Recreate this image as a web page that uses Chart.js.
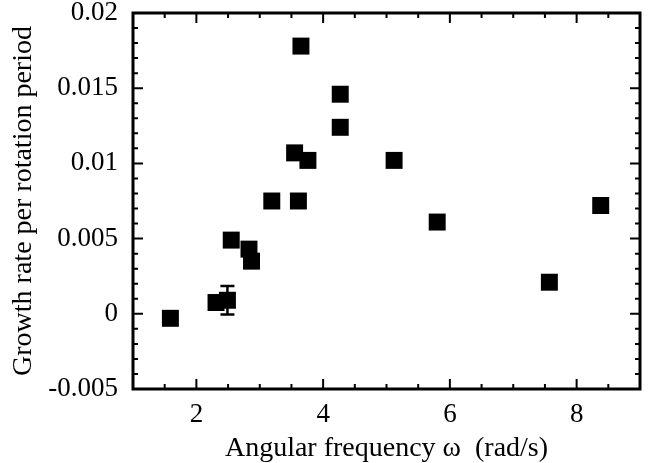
<!DOCTYPE html>
<html><head><meta charset="utf-8">
<script src="https://cdn.jsdelivr.net/npm/chart.js@4/dist/chart.umd.min.js"></script>
<style>html,body{margin:0;padding:0;background:#fff}#wrap{width:665px;height:463px}</style>
</head><body><div id="wrap"><canvas id="c" width="665" height="463"></canvas></div>
<script>
const omega = [1.59, 2.31, 2.49, 2.55, 2.83, 2.87, 3.19, 3.55, 3.61, 3.65, 3.76, 4.27, 4.27, 5.12, 5.80, 7.57, 8.38];
const growth = [-0.0003, 0.00075, 0.0009, 0.0049, 0.0043, 0.0035, 0.0075, 0.0107, 0.0075, 0.0178, 0.0102, 0.0146, 0.0124, 0.0102, 0.0061, 0.0021, 0.0072];
const growthErr = [0, 0, 0.00095, 0, 0, 0, 0, 0, 0, 0, 0, 0, 0, 0, 0, 0, 0];
const xTickValues = [2, 4, 6, 8];
const yTickValues = [-0.005, 0, 0.005, 0.01, 0.015, 0.02];
const yTickLabels = ['-0.005', '0', '0.005', '0.01', '0.015', '0.02'];
const xTitle = 'Angular frequency ω  (rad/s)';
const yTitle = 'Growth rate per rotation period';

const FAMILY = '"Liberation Serif", "Times New Roman", serif';

const errorBars = {
  id: 'errorBars',
  afterDatasetsDraw(chart) {
    const {ctx, scales: {x, y}} = chart;
    ctx.save();
    ctx.strokeStyle = '#000';
    ctx.lineWidth = 2.5;
    growthErr.forEach((e, i) => {
      if (!e) return;
      const px = x.getPixelForValue(omega[i]);
      const y1 = y.getPixelForValue(growth[i] + e);
      const y2 = y.getPixelForValue(growth[i] - e);
      ctx.beginPath();
      ctx.moveTo(px, y1); ctx.lineTo(px, y2);
      ctx.moveTo(px - 7, y1); ctx.lineTo(px + 7, y1);
      ctx.moveTo(px - 7, y2); ctx.lineTo(px + 7, y2);
      ctx.stroke();
    });
    ctx.restore();
  }
};

const frameTicks = {
  id: 'frameTicks',
  afterDraw(chart) {
    const {ctx, chartArea: a, scales: {x, y}} = chart;
    ctx.save();
    ctx.strokeStyle = '#000';
    ctx.lineWidth = 2;
    ctx.beginPath();
    for (let i = Math.ceil(x.min * 2); i <= Math.floor(x.max * 2); i++) {
      const v = i / 2;
      const px = x.getPixelForValue(v);
      const len = (v % 2 === 0) ? 10 : 5;
      ctx.moveTo(px, a.bottom); ctx.lineTo(px, a.bottom - len);
      ctx.moveTo(px, a.top); ctx.lineTo(px, a.top + len);
    }
    for (let i = Math.round(y.min * 1000); i <= Math.round(y.max * 1000); i++) {
      const py = y.getPixelForValue(i / 1000);
      const len = (i % 5 === 0) ? 10 : 5;
      ctx.moveTo(a.left, py); ctx.lineTo(a.left + len, py);
      ctx.moveTo(a.right, py); ctx.lineTo(a.right - len, py);
    }
    ctx.stroke();
    ctx.lineWidth = 3;
    ctx.strokeRect(a.left, a.top, a.right - a.left, a.bottom - a.top);
    ctx.restore();
  }
};

new Chart(document.getElementById('c'), {
  type: 'scatter',
  data: {
    datasets: [{
      data: omega.map((w, i) => ({x: w, y: growth[i]})),
      pointStyle: 'rect',
      pointRadius: 12,
      pointHoverRadius: 12,
      backgroundColor: '#000',
      borderColor: '#000',
      borderWidth: 0
    }]
  },
  options: {
    responsive: false,
    animation: false,
    devicePixelRatio: 1,
    layout: {padding: {top: 13, right: 25, left: 0, bottom: 0}},
    plugins: {legend: {display: false}, tooltip: {enabled: false}},
    scales: {
      x: {
        type: 'linear', min: 1, max: 9,
        afterBuildTicks: s => { s.ticks = xTickValues.map(v => ({value: v})); },
        afterFit: s => { s.height = 74; s.paddingLeft = 0; s.paddingRight = 0; },
        ticks: {
          autoSkip: false, maxRotation: 0, padding: 12, color: '#000',
          font: {family: FAMILY, size: 27, lineHeight: 1},
          callback: v => String(v)
        },
        grid: {display: false, drawTicks: false},
        border: {display: false},
        title: {display: true, text: xTitle, color: '#000',
          font: {family: FAMILY, size: 28, lineHeight: 1}, padding: {top: 1.5, bottom: 0}}
      },
      y: {
        type: 'linear', min: -0.005, max: 0.02,
        afterBuildTicks: s => { s.ticks = yTickValues.map(v => ({value: v})); },
        afterFit: s => { s.width = 133; s.paddingTop = 0; s.paddingBottom = 0; },
        ticks: {
          autoSkip: false, padding: 15, color: '#000',
          font: {family: FAMILY, size: 27, lineHeight: 1},
          callback: v => { const k = yTickValues.findIndex(t => Math.abs(t - v) < 1e-9); return k >= 0 ? yTickLabels[k] : ''; }
        },
        grid: {display: false, drawTicks: false},
        border: {display: false},
        title: {display: true, text: yTitle, color: '#000',
          font: {family: FAMILY, size: 28, lineHeight: 1}, padding: {top: 9.5, bottom: 0}}
      }
    }
  },
  plugins: [errorBars, frameTicks]
});
</script>
</body></html>
